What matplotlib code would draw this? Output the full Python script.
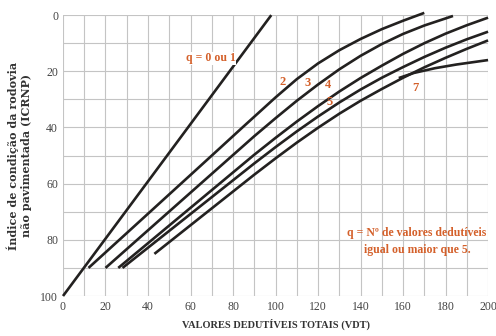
import numpy as np
import matplotlib
matplotlib.use("Agg")
from matplotlib import pyplot as plt

# Curves: (VDT, ICRNP) points
q1_x = [0, 98]
q1_y = [100, 0]
q2_x = [12, 30, 50, 70, 85, 100, 110, 120, 130, 140, 150, 160, 170]
q2_y = [90, 77.6, 63.8, 50.0, 39.6, 29.3, 22.8, 17.2, 12.5, 8.5, 5.0, 2.0, -0.8]
q3_x = [20, 40, 60, 90, 100, 110, 120, 130, 140, 150, 160, 170, 183.5]
q3_y = [90, 76.6, 63.2, 43.1, 36.7, 30.5, 24.7, 19.3, 14.5, 10.3, 6.7, 3.7, 0.3]
q4_x = [26, 50, 70, 90, 100, 110, 120, 130, 140, 150, 160, 170, 180, 190, 200]
q4_y = [90, 74.9, 62.3, 49.7, 43.7, 37.9, 32.4, 27.2, 22.4, 18.0,
        13.8, 10.0, 6.6, 3.6, 0.9]
q5_x = [28, 50, 70, 90, 100, 110, 120, 130, 140, 150, 160, 170, 180, 190, 200]
q5_y = [90, 76.8, 64.8, 52.8, 47.0, 41.4, 36.1, 31.1, 26.5, 22.3,
        18.5, 14.9, 11.6, 8.6, 5.9]
q6_x = [43, 70, 90, 100, 110, 120, 130, 140, 150, 160, 170, 180, 190, 200]
q6_y = [85, 68.8, 56.8, 51.0, 45.4, 40.1, 35.1, 30.5, 26.3, 22.3,
        18.6, 15.2, 12.0, 9.0]
q7_x = [158, 165, 175, 185, 200]
q7_y = [22.4, 20.6, 18.9, 17.6, 16.0]

curves = [(q1_x, q1_y), (q2_x, q2_y), (q3_x, q3_y), (q4_x, q4_y),
          (q5_x, q5_y), (q6_x, q6_y), (q7_x, q7_y)]

# curve numbers and where they sit on the chart
tag_text = ["2", "3", "4", "5", "7"]
tag_x = [103.5, 115.3, 124.7, 125.6, 165.6]
tag_y = [23.8, 24.2, 24.9, 31, 26]

ink = "#232120"
orange = "#d4602a"
plt.rcParams['font.family'] = ['Liberation Serif', 'DejaVu Serif']

fig = plt.figure(figsize=(4.96, 3.36), dpi=100)
ax = fig.add_axes([0.127, 0.119, 0.857, 0.836])

for x, y in curves:
    ax.plot(x, y, '-', color=ink, lw=1.9, solid_capstyle='butt',
            clip_on=False)

for t, x, y in zip(tag_text, tag_x, tag_y):
    ax.text(x, y, t, color=orange, fontsize=9, fontweight='bold',
            ha='center', va='center')
# the label breaks the q=0/1 line
ax.text(69.5, 15.3, "q = 0 ou 1", color=orange, fontsize=8.5,
        fontweight='bold', ha='center', va='center',
        bbox=dict(facecolor='white', edgecolor='none', pad=0.4))
ax.text(166.6, 80.6, "q = Nº de valores dedutíveis\nigual ou maior que 5.",
        color=orange, fontsize=8.5, fontweight='bold', ha='center',
        va='center', linespacing=1.45)

ax.set_xlim(0, 200)
ax.set_ylim(100, 0)
ax.set_xticks(np.arange(0, 201, 20))
ax.set_yticks(np.arange(0, 101, 20))
ax.set_xticks(np.arange(0, 201, 10), minor=True)
ax.set_yticks(np.arange(0, 101, 10), minor=True)
ax.grid(True, which='both', color='#c4c4c4', lw=0.8)
ax.set_axisbelow(True)
ax.tick_params(which='both', length=0, labelsize=8.5, colors='#444444')
for s in ax.spines.values():
    s.set_visible(False)

ax.set_xlabel("VALORES DEDUTÍVEIS TOTAIS (VDT)", fontsize=7.5,
              fontweight='bold', color='#333333')
ax.set_ylabel("Índice de condição da rodovia\nnão pavimentada (ICRNP)",
              fontsize=8, fontweight='bold', color='#333333',
              family=['DejaVu Serif'], labelpad=6)

fig.savefig("out.png", dpi=100)
